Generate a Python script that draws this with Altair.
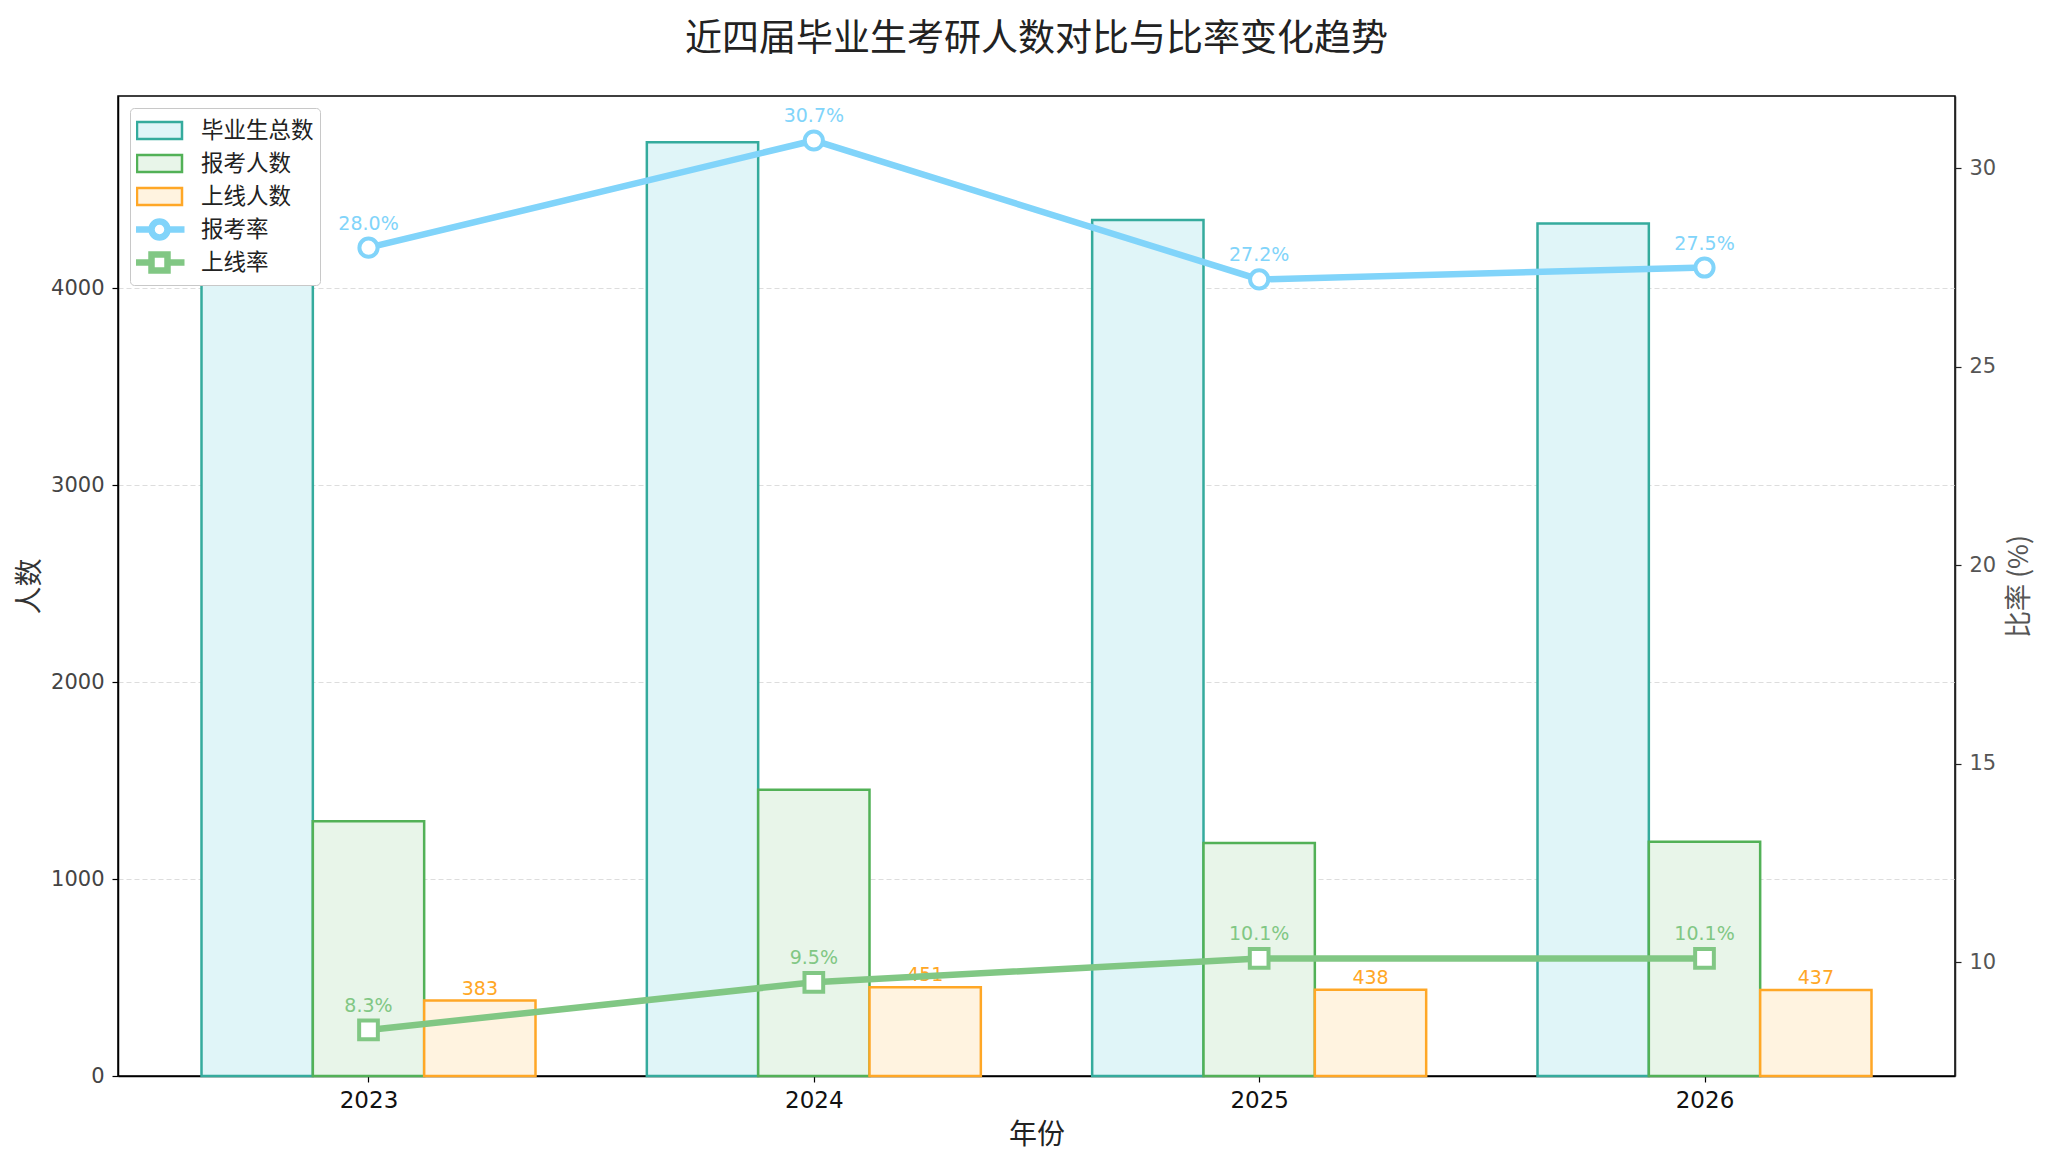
import altair as alt
import pandas as pd

# ---------------- data ----------------
years = ["2023", "2024", "2025", "2026"]
graduates = [4620, 4741, 4347, 4328]
applicants = [1294, 1454, 1183, 1190]
admitted = [383, 451, 438, 437]
apply_rate = [28.0, 30.7, 27.2, 27.5]
admit_rate = [8.3, 9.5, 10.1, 10.1]

bar_names = ["毕业生总数", "报考人数", "上线人数"]
rate_names = ["报考率", "上线率"]
series_order = bar_names + rate_names

# ---------------- styles ----------------
CJK = "Noto Sans CJK SC"
NUM = "DejaVu Sans"
fills = ["#E0F5F8", "#E8F5E9", "#FFF3E0", "#FFFFFF", "#FFFFFF"]
strokes = ["#35AB9D", "#52B157", "#FFA726", "#81D4FA", "#81C784"]
widths = [2.5, 2.5, 2.5, 6.5, 6.5]
legend_shapes = [
    "M-2.25,-0.85H2.25V0.85H-2.25Z",
    "M-2.25,-0.85H2.25V0.85H-2.25Z",
    "M-2.25,-0.85H2.25V0.85H-2.25Z",
    "M-2.5,0H-0.8M0.8,0H2.5M-0.8,0A0.8,0.8 0 1,0 0.8,0A0.8,0.8 0 1,0 -0.8,0Z",
    "M-2.5,0H-0.8M0.8,0H2.5M-0.8,-0.8H0.8V0.8H-0.8Z",
]
marker_shapes = ["circle", "square"]
marker_sizes = [330, 350]
rate_colors = ["#81D4FA", "#81C784"]

bar_w = 0.25

# ---------------- tables ----------------
rows = []
for i, y in enumerate(years):
    for k, (name, vals) in enumerate(zip(bar_names, [graduates, applicants, admitted])):
        x0 = i + (k - 1) * bar_w - bar_w / 2
        rows.append({"year": y, "series": name, "value": vals[i],
                     "x0": x0, "x1": x0 + bar_w, "xc": x0 + bar_w / 2})
bars_df = pd.DataFrame(rows)

rrows = []
for name, vals in zip(rate_names, [apply_rate, admit_rate]):
    for i, y in enumerate(years):
        rrows.append({"year": y, "series": name, "rate": vals[i], "pos": i,
                      "label": f"{vals[i]:.1f}%"})
rates_df = pd.DataFrame(rrows)

# ---------------- scales / axes ----------------
x_scale = alt.Scale(domain=[-0.5625, 3.5625], nice=False, zero=False)
y_left_scale = alt.Scale(domain=[0, 4976], nice=False)
y_right_scale = alt.Scale(domain=[7.14, 31.82], nice=False, zero=False)

label_expr = "[" + ",".join(f"'{y}'" for y in years) + "][datum.value]"
x_axis = alt.Axis(values=[0, 1, 2, 3], labelExpr=label_expr, title="年份", grid=False,
                  domainColor="#000000", domainWidth=1.5, tickColor="#000000", tickWidth=1.2,
                  tickSize=6, labelFont=NUM, labelFontSize=23, labelColor="#111111",
                  labelPadding=7, titleFont=CJK, titleFontSize=28, titleFontWeight="normal",
                  titleColor="#222222", titlePadding=9, labelFlush=False)
y_left_axis = alt.Axis(values=[0, 1000, 2000, 3000, 4000], format="d", title="人数", orient="left",
                       grid=True, gridColor="#dddddd", gridDash=[5, 3], gridWidth=1,
                       domainColor="#000000", domainWidth=1.5, tickColor="#000000", tickWidth=1.2,
                       tickSize=6, labelFont=NUM, labelFontSize=21, labelColor="#444444",
                       labelPadding=8, titleFont=CJK, titleFontSize=28, titleFontWeight="normal",
                       titleColor="#333333", titlePadding=6)
y_right_axis = alt.Axis(values=[10, 15, 20, 25, 30], format="d", title="比率 (%)", orient="right",
                        grid=False, domainColor="#222222", domainWidth=1.5, tickColor="#222222",
                        tickWidth=1.2, tickSize=6, labelFont=NUM, labelFontSize=21,
                        labelColor="#555555", labelPadding=8, titleFont=CJK, titleFontSize=27,
                        titleFontWeight="normal", titleColor="#555555", titlePadding=11,
                        titleAngle=270, titleBaseline="top")

legend = alt.Legend(title=None, orient="top-left", offset=12, padding=6, fillColor="white",
                    strokeColor="#c8c8c8", cornerRadius=4, symbolSize=400, symbolOffset=10,
                    labelOffset=28, rowPadding=0, clipHeight=33, labelFont=CJK, labelFontSize=22.5,
                    labelColor="#222222", labelLimit=400)

fill_enc = alt.Fill("series:N", scale=alt.Scale(domain=series_order, range=fills), legend=legend)
stroke_enc = alt.Stroke("series:N", scale=alt.Scale(domain=series_order, range=strokes), legend=legend)
sw_enc = alt.StrokeWidth("series:N", scale=alt.Scale(type="ordinal", domain=series_order, range=widths),
                         legend=legend)
shape_enc = alt.Shape("series:N", scale=alt.Scale(domain=series_order, range=legend_shapes), legend=legend)

# ---------------- legend-only layer (no rows drawn) ----------------
legend_layer = alt.Chart(rates_df).transform_filter("false").mark_point(
    filled=True, opacity=1
).encode(
    x=alt.X("pos:Q", scale=x_scale, axis=x_axis),
    fill=fill_enc, stroke=stroke_enc, strokeWidth=sw_enc, shape=shape_enc,
)

# ---------------- bars (left axis) ----------------
bars = alt.Chart(bars_df).mark_rect(opacity=1).encode(
    x=alt.X("x0:Q", scale=x_scale, axis=x_axis),
    x2="x1:Q",
    y=alt.Y("value:Q", scale=y_left_scale, axis=y_left_axis),
    y2=alt.datum(0),
    fill=fill_enc, stroke=stroke_enc, strokeWidth=sw_enc,
)
bar_labels = alt.Chart(bars_df).transform_filter(
    alt.datum.series == bar_names[2]
).mark_text(font=NUM, fontSize=19, color=strokes[2], baseline="alphabetic", dy=-6).encode(
    x=alt.X("xc:Q", scale=x_scale, axis=x_axis),
    y=alt.Y("value:Q", scale=y_left_scale, axis=y_left_axis),
    text=alt.Text("value:Q", format="d"),
)
left = alt.layer(bars, bar_labels)

# ---------------- rates (right axis) ----------------
right_layers = []
for name, col in zip(rate_names, rate_colors):
    right_layers.append(
        alt.Chart(rates_df).transform_filter(alt.datum.series == name).mark_text(
            font=NUM, fontSize=19, color=col, baseline="alphabetic", dy=-18
        ).encode(
            x=alt.X("pos:Q", scale=x_scale, axis=x_axis),
            y=alt.Y("rate:Q", scale=y_right_scale, axis=y_right_axis),
            text="label:N",
        )
    )
lines = alt.Chart(rates_df).mark_line().encode(
    x=alt.X("pos:Q", scale=x_scale, axis=x_axis),
    y=alt.Y("rate:Q", scale=y_right_scale, axis=y_right_axis),
    stroke=stroke_enc, strokeWidth=sw_enc,
    detail="series:N",
)
right_layers.append(lines)
for name, shp, sz in zip(rate_names, marker_shapes, marker_sizes):
    right_layers.append(
        alt.Chart(rates_df).transform_filter(alt.datum.series == name).mark_point(
            filled=True, fill="white", shape=shp, size=sz, strokeWidth=4, opacity=1
        ).encode(
            x=alt.X("pos:Q", scale=x_scale, axis=x_axis),
            y=alt.Y("rate:Q", scale=y_right_scale, axis=y_right_axis),
            stroke=stroke_enc,
        )
    )
right = alt.layer(*right_layers)

chart = alt.layer(legend_layer, left, right).resolve_scale(y="independent").properties(
    width=1837, height=980,
    autosize=alt.AutoSizeParams(type="none"),
    padding={"left": 110, "top": 88, "right": 85, "bottom": 77},
    background="white",
    title=alt.TitleParams(
        text="近四届毕业生考研人数对比与比率变化趋势", font=CJK, fontSize=37,
        fontWeight="normal", color="#222222", anchor="middle", offset=8,
        baseline="alphabetic",
    ),
).configure_view(stroke="#000000", strokeWidth=1.5)

chart.save("out.html", embed_options={"renderer": "svg", "actions": False})
